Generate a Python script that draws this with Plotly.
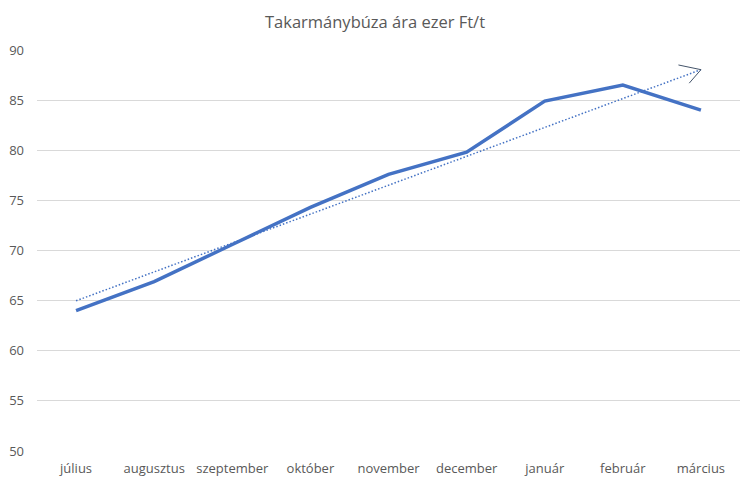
import numpy as np
import plotly.graph_objects as go

# Takarmánybúza ára (ezer Ft/t), havi adatok
months = ['július', 'augusztus', 'szeptember', 'október', 'november',
          'december', 'január', 'február', 'március']
price = [64.0, 66.9, 70.6, 74.3, 77.6, 79.8, 84.9, 86.5, 84.0]
y_ticks = [50, 55, 60, 65, 70, 75, 80, 85, 90]

# linear trendline (like Excel's)
idx = np.arange(1, len(months) + 1)
slope, intercept = np.polyfit(idx, price, 1)
trend = slope * idx + intercept

blue = '#4472C4'
grey = '#595959'

fig = go.Figure()
fig.add_trace(go.Scatter(x=months, y=trend, mode='lines',
                         line=dict(color=blue, width=1.5, dash='1.5px,2px'),
                         hoverinfo='skip'))
fig.add_trace(go.Scatter(x=months, y=price, mode='lines',
                         line=dict(color=blue, width=3.5)))

# open arrowhead at the end of the trendline: two thin barbs
for bx, by in [(-24, -5), (-13, 15)]:
    fig.add_annotation(x=months[-1], y=trend[-1], xref='x', yref='y',
                       ax=bx, ay=by, showarrow=True, arrowhead=0,
                       arrowwidth=1, arrowcolor='#44546A', text='')

fig.update_layout(
    title=dict(text='Takarmánybúza ára ezer Ft/t', x=0.5, xanchor='center',
               y=0.955, yanchor='middle',
               font=dict(family='Open Sans', size=16.5, color=grey)),
    width=750, height=486,
    margin=dict(l=37, r=10, t=50, b=35),
    plot_bgcolor='white', paper_bgcolor='white',
    showlegend=False,
    font=dict(family='Open Sans', size=13, color=grey),
)
fig.update_xaxes(range=[-0.5, len(months) - 0.5], showgrid=False, showline=False,
                 ticks='', ticklabelstandoff=8, tickfont=dict(size=13, color=grey))
fig.update_yaxes(range=[50, 90], tickvals=y_ticks, showgrid=True, gridcolor='#D9D9D9',
                 gridwidth=1, zeroline=False, showline=False, ticks='',
                 ticklabelstandoff=12, tickfont=dict(size=13, color=grey))

# page body margin off so the figure sits at the window corner
fig.write_html('out.html', config={'displayModeBar': False},
               post_script="document.body.style.margin='0';")
